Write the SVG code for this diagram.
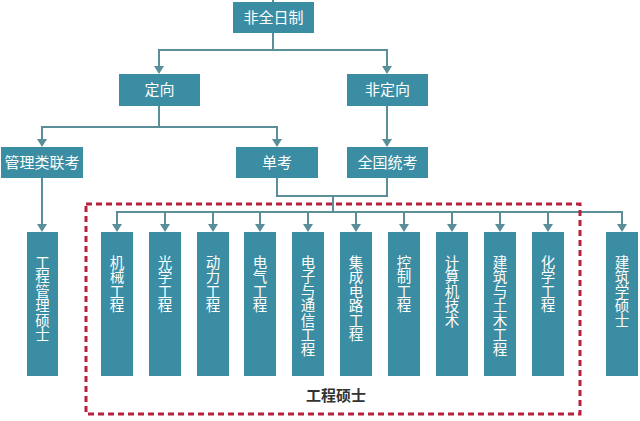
<svg xmlns="http://www.w3.org/2000/svg" width="640" height="421" viewBox="0 0 640 421">
<style>
.box{fill:#3b8da3}
.t{fill:#ffffff;font-family:"Noto Sans CJK SC","Noto Sans",sans-serif;font-size:15px;text-anchor:middle}
.v{fill:#ffffff;font-family:"Noto Sans CJK SC","Noto Sans",sans-serif;font-size:14.5px;writing-mode:vertical-rl;text-orientation:upright;text-anchor:start}
.ln{fill:none;stroke:#5a8e99;stroke-width:2}
.ah{fill:#5a8e99}
.lab{fill:#333333;font-family:"Noto Sans CJK SC","Noto Sans",sans-serif;font-size:15px;font-weight:bold;text-anchor:middle}
</style>
<rect width="640" height="421" fill="#ffffff"/>
<g id="connectors">
<path class="ln" d="M273,0 V2"/>
<path class="ln" d="M273,33 V50 H159 V68"/>
<path class="ln" d="M273,50 H387 V68"/>
<path class="ln" d="M159,106 V127 H42 V141"/>
<path class="ln" d="M159,127 H277 V141"/>
<path class="ln" d="M387,106 V141"/>
<path class="ln" d="M42,178 V226"/>
<path class="ln" d="M277,178 V196 H387 V178"/>
<path class="ln" d="M333,196 V212"/>
<path class="ln" d="M117,226 V212 H622 V226"/>
<path class="ln" d="M165,212 V226 M213,212 V226 M260,212 V226 M308,212 V226 M356,212 V226 M404,212 V226 M452,212 V226 M500,212 V226 M548,212 V226"/>
<g class="ah">
<path d="M154,66 L164,66 L159,74 Z"/>
<path d="M382,66 L392,66 L387,74 Z"/>
<path d="M37,139 L47,139 L42,147 Z"/>
<path d="M272,139 L282,139 L277,147 Z"/>
<path d="M382,139 L392,139 L387,147 Z"/>
<path d="M37,224 L47,224 L42,232 Z"/>
<path d="M112,224 L122,224 L117,232 Z"/>
<path d="M160,224 L170,224 L165,232 Z"/>
<path d="M208,224 L218,224 L213,232 Z"/>
<path d="M255,224 L265,224 L260,232 Z"/>
<path d="M303,224 L313,224 L308,232 Z"/>
<path d="M351,224 L361,224 L356,232 Z"/>
<path d="M399,224 L409,224 L404,232 Z"/>
<path d="M447,224 L457,224 L452,232 Z"/>
<path d="M495,224 L505,224 L500,232 Z"/>
<path d="M543,224 L553,224 L548,232 Z"/>
<path d="M617,224 L627,224 L622,232 Z"/>
</g>
</g>
<g id="group-engineering">
<rect x="86" y="204" width="494" height="210" fill="none" stroke="#b8213c" stroke-width="3" stroke-dasharray="6 4"/>
<text class="lab" x="336" y="401">工程硕士</text>
</g>
<g id="n-feiquanrizhi"><rect class="box" x="233" y="2" width="81" height="31"/><text class="t" x="273.5" y="23">非全日制</text></g>
<g id="n-dingxiang"><rect class="box" x="119" y="74" width="81" height="32"/><text class="t" x="159.5" y="95">定向</text></g>
<g id="n-feidingxiang"><rect class="box" x="347" y="74" width="81" height="32"/><text class="t" x="387.5" y="95">非定向</text></g>
<g id="n-guanli"><rect class="box" x="1" y="147" width="82" height="31"/><text class="t" x="42" y="168">管理类联考</text></g>
<g id="n-dankao"><rect class="box" x="236" y="147" width="82" height="31"/><text class="t" x="277" y="168">单考</text></g>
<g id="n-tongkao"><rect class="box" x="347" y="147" width="81" height="31"/><text class="t" x="387.5" y="168">全国统考</text></g>
<g id="n-gongchengguanli"><rect class="box" x="27" y="232" width="31" height="144"/><text class="v" x="42.5" y="255">工程管理硕士</text></g>
<g id="n-jixie"><rect class="box" x="101" y="232" width="32" height="144"/><text class="v" x="117" y="255">机械工程</text></g>
<g id="n-guangxue"><rect class="box" x="149" y="232" width="32" height="144"/><text class="v" x="165" y="255">光学工程</text></g>
<g id="n-dongli"><rect class="box" x="197" y="232" width="32" height="144"/><text class="v" x="213" y="255">动力工程</text></g>
<g id="n-dianqi"><rect class="box" x="244" y="232" width="32" height="144"/><text class="v" x="260" y="255">电气工程</text></g>
<g id="n-dianzi"><rect class="box" x="292" y="232" width="32" height="144"/><text class="v" x="308" y="255">电子与通信工程</text></g>
<g id="n-jicheng"><rect class="box" x="340" y="232" width="32" height="144"/><text class="v" x="356" y="255">集成电路工程</text></g>
<g id="n-kongzhi"><rect class="box" x="388" y="232" width="32" height="144"/><text class="v" x="404" y="255">控制工程</text></g>
<g id="n-jisuanji"><rect class="box" x="436" y="232" width="32" height="144"/><text class="v" x="452" y="255">计算机技术</text></g>
<g id="n-jianzhutumu"><rect class="box" x="484" y="232" width="32" height="144"/><text class="v" x="500" y="255">建筑与土木工程</text></g>
<g id="n-huaxue"><rect class="box" x="532" y="232" width="32" height="144"/><text class="v" x="548" y="255">化学工程</text></g>
<g id="n-jianzhuxue"><rect class="box" x="606" y="232" width="32" height="144"/><text class="v" x="622" y="255">建筑学硕士</text></g>
</svg>
